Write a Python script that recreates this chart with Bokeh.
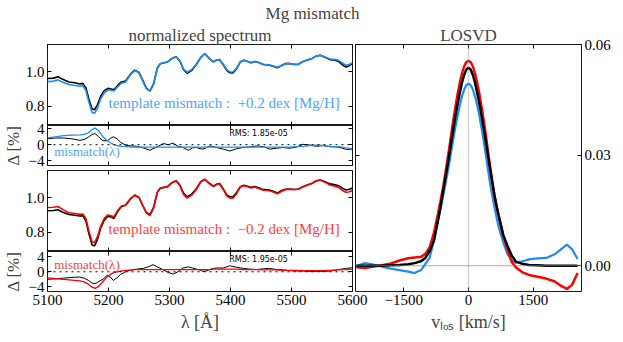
from bokeh.plotting import figure
from bokeh.layouts import column, row
from bokeh.models import Range1d, LinearAxis, FixedTicker, CustomJSTickFormatter, Span, Label
from bokeh.embed import file_html
from bokeh.resources import INLINE

# ---------------- data ----------------
lam = [5100, 5110, 5117, 5125, 5135, 5145, 5153, 5158, 5163, 5168, 5173, 5177, 5182, 5187, 5193,
       5199, 5204, 5209, 5215, 5221, 5228, 5236, 5243, 5250, 5256, 5262, 5268, 5274, 5280, 5285,
       5291, 5297, 5304, 5311, 5317, 5323, 5329, 5336, 5344, 5351, 5358, 5365, 5372, 5377, 5382,
       5388, 5394, 5399, 5404, 5410, 5416, 5422, 5428, 5434, 5440, 5446, 5454, 5462, 5470, 5477,
       5484, 5490, 5497, 5504, 5511, 5519, 5526, 5534, 5540, 5547, 5555, 5563, 5570, 5577, 5583,
       5589, 5594, 5600]

spec_black_top = [0.960, 0.962, 0.970, 0.955, 0.940, 0.935, 0.928, 0.932, 0.905, 0.840, 0.785, 0.780,
                  0.810, 0.857, 0.890, 0.903, 0.900, 0.895, 0.920, 0.940, 0.945, 0.985, 1.008, 0.995,
                  0.950, 0.905, 0.888, 0.930, 1.020, 1.045, 1.050, 1.055, 1.075, 1.085, 1.060, 1.010,
                  0.990, 1.005, 1.040, 1.080, 1.103, 1.075, 1.055, 1.065, 1.068, 1.040, 1.005, 0.993,
                  0.992, 1.015, 1.055, 1.065, 1.058, 1.050, 1.058, 1.052, 1.040, 1.038, 1.030, 1.021,
                  1.035, 1.045, 1.046, 1.040, 1.040, 1.058, 1.066, 1.075, 1.088, 1.093, 1.082, 1.068,
                  1.066, 1.058, 1.040, 1.026, 1.032, 1.046]
spec_blue_top = [0.942, 0.945, 0.952, 0.938, 0.925, 0.920, 0.915, 0.918, 0.890, 0.822, 0.765, 0.760,
                 0.790, 0.842, 0.878, 0.893, 0.892, 0.888, 0.912, 0.933, 0.940, 0.982, 1.005, 0.993,
                 0.948, 0.902, 0.886, 0.928, 1.018, 1.044, 1.050, 1.055, 1.075, 1.085, 1.062, 1.014,
                 0.996, 1.010, 1.042, 1.080, 1.103, 1.076, 1.057, 1.066, 1.068, 1.042, 1.010, 0.998,
                 0.997, 1.018, 1.056, 1.064, 1.058, 1.050, 1.057, 1.052, 1.041, 1.039, 1.032, 1.024,
                 1.036, 1.045, 1.046, 1.041, 1.042, 1.058, 1.066, 1.075, 1.088, 1.093, 1.083, 1.072,
                 1.070, 1.064, 1.050, 1.036, 1.040, 1.050]
spec_black_bot = [0.924, 0.925, 0.930, 0.915, 0.902, 0.898, 0.894, 0.896, 0.865, 0.790, 0.728, 0.722,
                  0.760, 0.822, 0.870, 0.893, 0.888, 0.880, 0.920, 0.948, 0.955, 0.992, 1.013, 1.000,
                  0.955, 0.915, 0.902, 0.945, 1.030, 1.055, 1.058, 1.062, 1.085, 1.096, 1.072, 1.025,
                  1.004, 1.018, 1.050, 1.090, 1.105, 1.082, 1.065, 1.076, 1.080, 1.050, 1.015, 1.004,
                  1.004, 1.028, 1.062, 1.070, 1.064, 1.058, 1.063, 1.056, 1.045, 1.044, 1.036, 1.026,
                  1.040, 1.047, 1.048, 1.046, 1.047, 1.062, 1.072, 1.082, 1.095, 1.100, 1.090, 1.078,
                  1.074, 1.068, 1.055, 1.044, 1.046, 1.055]
spec_red_bot = [0.943, 0.944, 0.948, 0.932, 0.912, 0.908, 0.903, 0.905, 0.878, 0.805, 0.746, 0.741,
                0.775, 0.833, 0.880, 0.900, 0.895, 0.890, 0.925, 0.950, 0.957, 0.994, 1.014, 1.000,
                0.955, 0.912, 0.896, 0.940, 1.028, 1.054, 1.058, 1.062, 1.085, 1.095, 1.068, 1.018,
                0.996, 1.012, 1.046, 1.088, 1.104, 1.080, 1.062, 1.074, 1.078, 1.046, 1.008, 0.996,
                0.996, 1.022, 1.060, 1.068, 1.062, 1.054, 1.060, 1.052, 1.042, 1.040, 1.032, 1.021,
                1.036, 1.045, 1.047, 1.046, 1.048, 1.062, 1.072, 1.082, 1.095, 1.100, 1.088, 1.072,
                1.066, 1.058, 1.042, 1.030, 1.032, 1.040]

lam_res = [5100, 5113, 5126, 5140, 5153, 5160, 5167, 5173, 5178, 5184, 5191, 5198, 5203, 5208, 5214,
           5220, 5229, 5238, 5246, 5257, 5268, 5273, 5279, 5290, 5298, 5306, 5314, 5322, 5331, 5338,
           5344, 5350, 5355, 5360, 5366, 5372, 5377, 5388, 5399, 5410, 5421, 5432, 5443, 5454, 5464,
           5475, 5486, 5497, 5508, 5519, 5530, 5541, 5552, 5563, 5577, 5590, 5600]
res_black_top = [1.5, 1.7, 1.7, 1.5, 1.1, 1.3, 1.9, 2.6, 2.8, 2.0, 1.0, 1.0, 1.6, 2.0, 1.5,
                 0.6, -0.2, -0.3, -0.4, -0.8, -1.4, -1.0, -0.6, 0.3, 0.0, 0.4, -0.4, -0.7, -1.4, -0.8,
                 -0.7, -1.0, -1.1, -0.8, -0.3, -0.5, -0.7, -1.1, -1.6, -1.0, -0.7, -0.6, -0.3, -0.5, -1.1,
                 -0.9, -0.7, -0.9, -0.6, 0.1, -0.1, -0.4, -0.2, -0.5, -0.6, -1.2, -1.1]
res_blue_top = [1.7, 2.0, 2.3, 2.4, 2.5, 2.6, 3.0, 3.8, 4.2, 3.5, 2.0, 1.0, 0.5, 0.1, -0.2,
                -0.4, -0.5, -0.6, -0.6, -0.6, -0.6, -0.6, -0.6, -0.6, -0.6, -0.6, -0.6, -0.6, -0.6, -0.6,
                -0.6, -0.6, -0.6, -0.6, -0.6, -0.6, -0.6, -0.6, -0.6, -0.6, -0.6, -0.6, -0.6, -0.6, -0.6,
                -0.6, -0.6, -0.6, -0.5, -0.4, -0.2, -0.1, -0.2, -0.4, -0.5, -0.8, -1.0]
res_black_bot = [-2.0, -1.9, -1.7, -1.5, -1.4, -1.7, -2.3, -3.0, -3.2, -2.6, -2.0, -0.9, -1.4, -2.3, -1.6,
                 -0.7, 0.1, 0.5, 0.7, 0.9, 1.5, 1.9, 1.4, 0.5, -0.2, -0.6, 0.0, 1.0, 1.3, 1.0,
                 0.7, 0.5, 0.1, 0.2, 0.6, 0.9, 1.0, 1.0, 1.6, 1.2, 0.9, 0.7, 0.6, 0.8, 0.9,
                 0.6, 0.5, 0.3, 0.2, 0.2, 0.1, 0.1, 0.1, 0.2, 0.6, 0.9, 1.1]
res_red_bot = [-1.6, -1.8, -2.0, -2.2, -2.4, -2.7, -3.3, -4.1, -4.4, -3.9, -2.6, -1.3, -0.7, -0.3, 0.0,
               0.2, 0.4, 0.5, 0.6, 0.6, 0.6, 0.6, 0.6, 0.6, 0.6, 0.6, 0.6, 0.6, 0.6, 0.6,
               0.6, 0.6, 0.6, 0.6, 0.6, 0.7, 0.7, 0.7, 0.7, 0.7, 0.6, 0.6, 0.6, 0.5, 0.5,
               0.5, 0.4, 0.4, 0.4, 0.3, 0.3, 0.3, 0.3, 0.4, 0.5, 0.6, 0.7]

vel = [-2600, -2400, -2200, -2000, -1800, -1600, -1400, -1250, -1100, -1000, -900, -800, -700,
       -650, -600, -550, -500, -450, -400, -350, -300, -250, -200, -150, -100, -50, 0,
       50, 100, 150, 200, 250, 300, 350, 400, 450, 500, 550, 600, 650,
       700, 800, 900, 1000, 1100, 1250, 1400, 1600, 1800, 2000, 2150, 2280, 2400, 2530]
losvd_black = [0.0, 0.0, 0.0, 0.0, 0.0001, 0.0002, 0.0004, 0.0007, 0.0012, 0.0021, 0.0040, 0.0068, 0.0128,
               0.0160, 0.0194, 0.0228, 0.0262, 0.0298, 0.0336, 0.0372, 0.0408, 0.0440, 0.0470, 0.0497,
               0.0518, 0.0532, 0.0537, 0.0532, 0.0518, 0.0497, 0.0470, 0.0441, 0.0409, 0.0374, 0.0338,
               0.0300, 0.0262, 0.0226, 0.0192, 0.0162,
               0.0135, 0.0085, 0.0055, 0.0028, 0.0011, 0.0005, 0.0002, 0.0001, 0.0, 0.0, 0.0, 0.0, 0.0, 0.0]
losvd_red = [-0.0004, -0.0006, -0.0002, 0.0001, 0.0006, 0.0014, 0.0020, 0.0022, 0.0024, 0.0032, 0.0050,
             0.0090, 0.0145,
             0.0175, 0.0206, 0.0241, 0.0278, 0.0316, 0.0356, 0.0396, 0.0433, 0.0467, 0.0497, 0.0522,
             0.0541, 0.0552, 0.0556, 0.0552, 0.0541, 0.0522, 0.0497, 0.0467, 0.0433, 0.0396, 0.0356,
             0.0312, 0.0270, 0.0230, 0.0192, 0.0162,
             0.0136, 0.0085, 0.0045, 0.0011, -0.0005, -0.0018, -0.0025, -0.0030, -0.0035, -0.0043,
             -0.0055, -0.0063, -0.0052, -0.0020]
losvd_blue = [-0.0001, 0.0007, 0.0003, -0.0003, -0.0008, -0.0012, -0.0016, -0.0020, -0.0012, 0.0005,
              0.0022, 0.0070, 0.0125,
              0.0152, 0.0182, 0.0212, 0.0243, 0.0275, 0.0310, 0.0345, 0.0378, 0.0408, 0.0436, 0.0460,
              0.0478, 0.0490, 0.0494, 0.0490, 0.0478, 0.0460, 0.0436, 0.0408, 0.0375, 0.0340, 0.0302,
              0.0262, 0.0224, 0.0190, 0.0160, 0.0131,
              0.0105, 0.0065, 0.0032, 0.0015, 0.0008, 0.0012, 0.0017, 0.0020, 0.0021, 0.0031,
              0.0045, 0.0057, 0.0045, 0.0018]

spec_yticks = [0.8, 1.0]
res_yticks = [-4, 0, 4]
lam_ticks = [5100, 5200, 5300, 5400, 5500, 5600]
vel_ticks = [-1500, 0, 1500]
losvd_yticks = [0.0, 0.03, 0.06]

# ---------------- style ----------------
SERIF = "Liberation Serif"
BLUE = "#1e8cf5"
RED = "#ff0000"
BLUE_TXT = "#4da3ff"
RED_TXT = "#ff4040"

minus_fmt = CustomJSTickFormatter(code="return (tick < 0 ? '\u2212' : '') + Math.abs(tick).toString();")
one_fmt = CustomJSTickFormatter(code="return tick.toFixed(1);")
two_fmt = CustomJSTickFormatter(code="return tick.toFixed(2);")


def base_fig(fw, fh, xr, yr, bl, br, bt, bb):
    p = figure(frame_width=fw, frame_height=fh, x_range=xr, y_range=yr,
               x_axis_type=None, y_axis_type=None, output_backend="svg",
               toolbar_location=None, min_border_left=bl, min_border_right=br,
               min_border_top=bt, min_border_bottom=bb)
    p.outline_line_color = "black"
    p.outline_line_width = 1
    p.outline_line_alpha = 0.9
    p.border_fill_color = None
    return p


def axis(p, side, ticks, labels=False, fmt=None, size="15px"):
    ax = LinearAxis(ticker=FixedTicker(ticks=ticks, minor_ticks=[]))
    ax.axis_line_color = None
    ax.major_tick_in = 4
    ax.major_tick_out = 0
    ax.major_tick_line_color = "black"
    ax.minor_tick_line_color = None
    if labels:
        ax.major_label_text_font = SERIF
        ax.major_label_text_font_size = size
        ax.major_label_standoff = 3
        ax.major_label_text_color = "black"
        if fmt is not None:
            ax.formatter = fmt
    else:
        ax.major_label_text_font_size = "0px"
        ax.major_label_standoff = 0
        ax.major_label_text_alpha = 0
    p.add_layout(ax, side)
    return ax


def label_axis(ax, text, size="17px", standoff=2):
    ax.axis_label = text
    ax.axis_label_text_font = SERIF
    ax.axis_label_text_font_size = size
    ax.axis_label_text_font_style = "normal"
    ax.axis_label_standoff = standoff


def style_title(p, text):
    p.title.text = text
    p.title.align = "center"
    p.title.text_font = SERIF
    p.title.text_font_size = "17px"
    p.title.text_font_style = "normal"
    p.title.standoff = 0


xr_lam = Range1d(5100, 5600)
RIGHT_PAD = 16
TOP_PAD = 7
TITLE_PAD = 18

# top spectrum
f1 = base_fig(305, 81, xr_lam, Range1d(0.69, 1.155), 43, RIGHT_PAD, TITLE_PAD, 0)
style_title(f1, "normalized spectrum")
axis(f1, "left", spec_yticks, True, one_fmt)
axis(f1, "right", spec_yticks)
axis(f1, "below", lam_ticks)
axis(f1, "above", lam_ticks)
f1.line(lam, spec_black_top, line_color="black", line_width=1.6)
f1.line(lam, spec_blue_top, line_color=BLUE, line_width=1.6)
f1.add_layout(Label(x=5200, y=0.817, text="template mismatch :\u00a0 +0.2 dex [Mg/H]",
                    text_baseline="middle", text_color=BLUE_TXT, text_font=SERIF,
                    text_font_size="15px"))

# top residual
f2 = base_fig(305, 40, xr_lam, Range1d(-5.25, 4.85), 43, RIGHT_PAD, TOP_PAD, 5)
f2.margin = (-TOP_PAD, 0, 0, 0)
ax2 = axis(f2, "left", res_yticks, True, minus_fmt)
label_axis(ax2, "\u0394 [%]", "17px", 3)
axis(f2, "right", res_yticks)
axis(f2, "below", lam_ticks)
axis(f2, "above", lam_ticks)
f2.add_layout(Span(location=0, dimension="width", line_color="black", line_dash="dotted", line_width=1))
f2.line(lam_res, res_black_top, line_color="black", line_width=1.0)
f2.line(lam_res, res_blue_top, line_color=BLUE, line_width=1.3)
f2.add_layout(Label(x=5111, y=-1.8, text="mismatch(\u03bb)", text_baseline="middle",
                    text_color=BLUE_TXT, text_font=SERIF, text_font_size="13px"))
f2.add_layout(Label(x=5398, y=2.75, text="RMS: 1.85e-05", text_baseline="middle",
                    text_color="black", text_font="DejaVu Sans", text_font_size="8px"))

# bottom spectrum
f3 = base_fig(305, 81, xr_lam, Range1d(0.69, 1.155), 43, RIGHT_PAD, 0, 0)
axis(f3, "left", spec_yticks, True, one_fmt)
axis(f3, "right", spec_yticks)
axis(f3, "below", lam_ticks)
axis(f3, "above", lam_ticks)
f3.line(lam, spec_black_bot, line_color="black", line_width=1.6)
f3.line(lam, spec_red_bot, line_color=RED, line_width=1.6)
f3.add_layout(Label(x=5200, y=0.822, text="template mismatch :\u00a0 \u22120.2 dex [Mg/H]",
                    text_baseline="middle", text_color=RED_TXT, text_font=SERIF,
                    text_font_size="15px"))

# bottom residual
f4 = base_fig(305, 40, xr_lam, Range1d(-5.25, 5.4), 43, RIGHT_PAD, TOP_PAD, 0)
f4.margin = (-TOP_PAD, 0, 0, 0)
ax4 = axis(f4, "left", res_yticks, True, minus_fmt)
label_axis(ax4, "\u0394 [%]", "17px", 3)
axis(f4, "right", res_yticks)
axis(f4, "above", lam_ticks)
bx4 = axis(f4, "below", lam_ticks, True, None)
label_axis(bx4, "\u03bb [\u00c5]", "18px", 4)
f4.add_layout(Span(location=0, dimension="width", line_color="black", line_dash="dotted", line_width=1))
f4.line(lam_res, res_black_bot, line_color="black", line_width=1.0)
f4.line(lam_res, res_red_bot, line_color=RED, line_width=1.3)
f4.add_layout(Label(x=5111, y=1.9, text="mismatch(\u03bb)", text_baseline="middle",
                    text_color=RED_TXT, text_font=SERIF, text_font_size="13px"))
f4.add_layout(Label(x=5398, y=3.4, text="RMS: 1.95e-05", text_baseline="middle",
                    text_color="black", text_font="DejaVu Sans", text_font_size="8px"))

# LOSVD
f5 = base_fig(226, 247, Range1d(-2620, 2620), Range1d(-0.007, 0.06), 3, 0, TITLE_PAD, 0)
style_title(f5, "LOSVD")
f5.margin = (0, 0, 0, -RIGHT_PAD)
axis(f5, "left", losvd_yticks)
axis(f5, "right", losvd_yticks, True, two_fmt)
axis(f5, "above", vel_ticks)
bx5 = axis(f5, "below", vel_ticks, True, minus_fmt)
label_axis(bx5, "v\u2097\u2092\u209b [km/s]", "18px", 4)
f5.add_layout(Span(location=0, dimension="height", line_color="gray", line_alpha=0.35, line_width=1.5))
f5.add_layout(Span(location=0, dimension="width", line_color="gray", line_alpha=0.8, line_width=0.8))
f5.line(vel, losvd_blue, line_color=BLUE, line_width=2.2)
f5.line(vel, losvd_red, line_color=RED, line_width=2.5)
f5.line(vel, losvd_black, line_color="black", line_width=2.5)

# header with the main title
head = figure(width=607, height=23, x_range=Range1d(0, 607), y_range=Range1d(0, 23),
              x_axis_type=None, y_axis_type=None, output_backend="svg", toolbar_location=None,
              min_border=0, outline_line_color=None)
head.add_layout(Label(x=312, y=10, text="Mg mismatch", text_align="center", text_baseline="alphabetic",
                      text_font=SERIF, text_font_size="17px"))

left = column(f1, f2, f3, f4, spacing=0)
p = column(head, row(left, f5, spacing=0), spacing=0)

open("out.html", "w").write(file_html(p, INLINE))
